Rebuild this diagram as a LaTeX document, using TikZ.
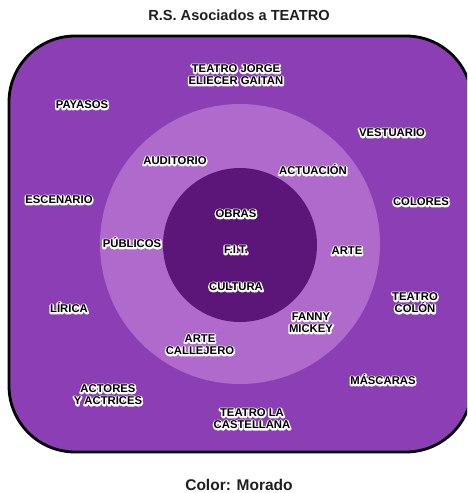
\documentclass[tikz,border=0pt]{standalone}
\usepackage{fontspec}
\setmainfont{Liberation Sans}
\definecolor{outerpurple}{RGB}{140,62,180}
\definecolor{midpurple}{RGB}{176,106,204}
\definecolor{innerpurple}{RGB}{92,22,122}
\definecolor{titlegray}{RGB}{30,30,30}
% white stroked copy underneath, black fill on top
\newcommand{\halo}[1]{\leavevmode\rlap{\color{white}\special{pdf:literal direct 1 Tr 3 w 1 j 1 J}#1\special{pdf:literal direct 0 Tr}}#1}
\begin{document}
\begin{tikzpicture}[x=1pt,y=-1pt,
  lbl/.style={font=\fontsize{11.3}{12.2}\selectfont\bfseries, text=black, align=center, inner sep=0pt},
  heading/.style={font=\fontsize{14.6}{16}\selectfont\bfseries, text=titlegray, inner sep=0pt}]
\useasboundingbox (0,0) rectangle (467,493);
\clip (0,0) rectangle (467,493);

% outer panel
\draw[line width=2.8pt, fill=outerpurple, rounded corners=66pt]
  (9,36) rectangle (472,452);
% rings
\fill[midpurple] (240,244) circle (140);
\fill[innerpurple] (240,245) circle (77);

% titles
\node[heading] (title) at (239,15) {R.S. Asociados a TEATRO};
\node[heading, font=\fontsize{15.5}{17}\selectfont\bfseries] (color) at (239,485) {Color: Morado};

% outer ring labels
\node[lbl] (jorge) at (236,75) {\halo{TEATRO JORGE}\\\halo{ELIECER GAITAN}};
\node[lbl] (payasos) at (82,105) {\halo{PAYASOS}};
\node[lbl] (vestuario) at (392,133) {\halo{VESTUARIO}};
\node[lbl] (escenario) at (59,200) {\halo{ESCENARIO}};
\node[lbl] (colores) at (421,202) {\halo{COLORES}};
\node[lbl] (lirica) at (69,308) {\halo{LÍRICA}};
\node[lbl] (colon) at (415,303) {\halo{TEATRO}\\\halo{COLÓN}};
\node[lbl] (mascaras) at (383,380) {\halo{MÁSCARAS}};
\node[lbl] (actores) at (108,395) {\halo{ACTORES}\\\halo{Y ACTRICES}};
\node[lbl] (castellana) at (252,419) {\halo{TEATRO LA}\\\halo{CASTELLANA}};

% middle ring labels
\node[lbl] (auditorio) at (175,161) {\halo{AUDITORIO}};
\node[lbl] (actuacion) at (313,170) {\halo{ACTUACIÓN}};
\node[lbl] (publicos) at (132,243) {\halo{PÚBLICOS}};
\node[lbl] (arte) at (347,251) {\halo{ARTE}};
\node[lbl] (fanny) at (311,323) {\halo{FANNY}\\\halo{MICKEY}};
\node[lbl] (callejero) at (200,345) {\halo{ARTE}\\\halo{CALLEJERO}};

% core labels
\node[lbl] (obras) at (236,214) {\halo{OBRAS}};
\node[lbl] (fit) at (236,250) {\halo{F.I.T.}};
\node[lbl] (cultura) at (236,287) {\halo{CULTURA}};
\end{tikzpicture}
\end{document}
